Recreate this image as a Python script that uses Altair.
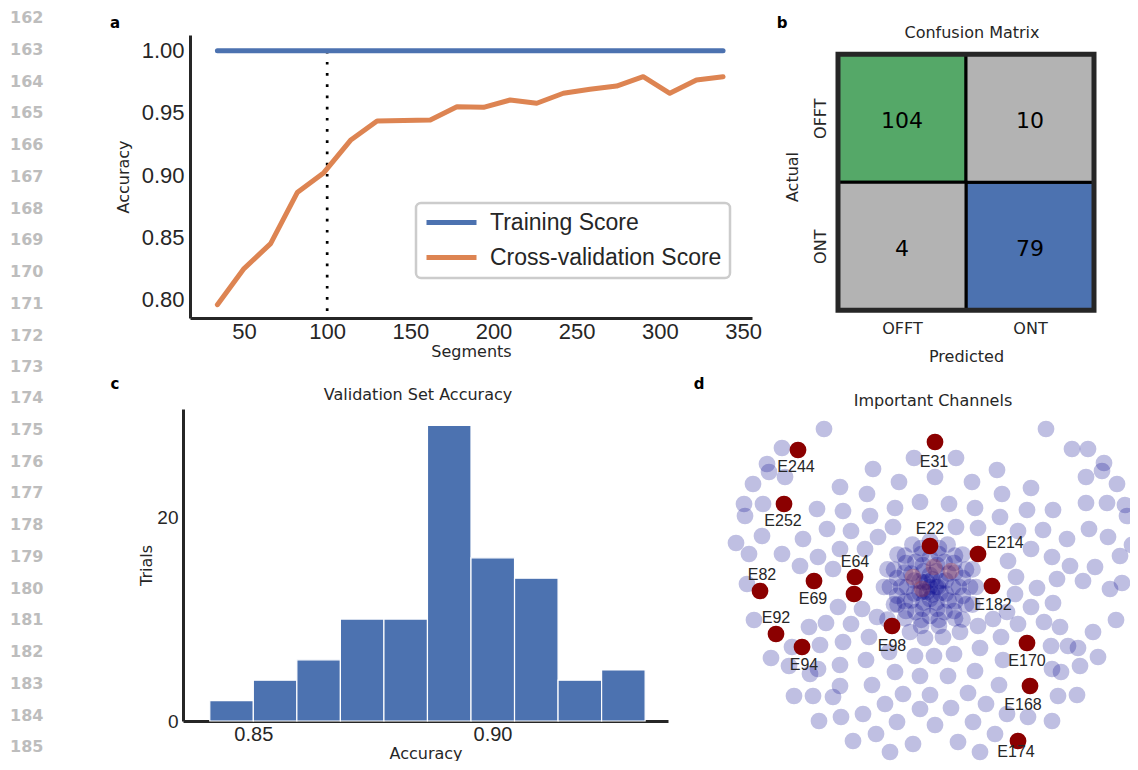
import altair as alt
import pandas as pd

# ---------------- data ----------------
line_numbers_top = [162, 163, 164, 165, 166, 167, 168, 169, 170, 171, 172, 173]
line_numbers_bottom = [174, 175, 176, 177, 178, 179, 180, 181, 182, 183, 184, 185]

# panel a: learning curve
segments = [34, 50, 66, 82, 98, 114, 130, 146, 162, 178, 194, 210, 226, 242, 258, 274, 290, 306, 322, 338]
training_score = [1.0, 1.0, 1.0, 1.0, 1.0, 1.0, 1.0, 1.0, 1.0, 1.0,
                  1.0, 1.0, 1.0, 1.0, 1.0, 1.0, 1.0, 1.0, 1.0, 1.0]
cv_score = [0.796, 0.825, 0.845, 0.886, 0.902, 0.928, 0.9435, 0.944, 0.9443, 0.955,
            0.9545, 0.9604, 0.9578, 0.9658, 0.969, 0.9716, 0.9791, 0.9658, 0.9765, 0.9791]
series_names = ["Training Score", "Cross-validation Score"]
chosen_segments = 100

# panel b: confusion matrix
class_names = ["OFFT", "ONT"]
cm_actual = ["OFFT", "OFFT", "ONT", "ONT"]
cm_predicted = ["OFFT", "ONT", "OFFT", "ONT"]
cm_counts = [104, 10, 4, 79]

# panel c: histogram
bin_edges = [0.8409, 0.8500, 0.8591, 0.8682, 0.8773, 0.8864, 0.8955, 0.9046, 0.9137, 0.9228, 0.9319]
trial_counts = [2, 4, 6, 10, 10, 29, 16, 14, 4, 5]

# panel d: sensor layout (projected electrode coordinates)
chan_x = [824, 782, 767, 769, 785, 753, 873, 914, 840, 899, 867, 744, 745, 763, 817, 843, 870, 895, 920,
          762, 803, 827, 851, 878, 893, 736, 749, 782, 818, 840, 865, 800, 833, 747,
          1046, 1072, 1088, 1104, 1102, 956, 935, 997, 1086, 1117, 972, 1031, 1002, 949, 975, 1027, 1053,
          1086, 1107, 1125, 1127, 1000, 956, 978, 1018, 1043, 1067, 1089, 1108, 1132, 1008, 1031, 1052,
          1070, 1095, 1120, 1016, 1037, 1057, 1083, 1110, 1122,
          838, 862, 877, 754, 809, 826, 851, 910, 792, 820, 843, 869, 925, 771, 789, 818, 810, 840, 866,
          889, 915, 895, 920, 872, 840, 794, 813, 833, 903, 930, 885, 863, 841, 819, 920, 897, 853, 876,
          890, 913,
          1015, 1053, 1031, 1007, 993, 978, 960, 943, 1018, 1044, 1060, 1093, 1116, 1001, 1051, 1068, 1078,
          1098, 980, 954, 934, 1003, 1052, 1061, 1080, 975, 948, 999, 968, 1058, 1077, 986, 951, 1007, 1028,
          1052, 973, 935, 995, 958, 980,
          976, 972.5, 962.5, 887.5, 884, 887.5, 897.5, 912.4, 930, 947.6, 962.5, 972.5, 897.5,
          970, 966, 955, 938.9, 921.1, 905, 894, 890, 894, 905, 921.1, 938.9, 955, 966,
          962.8, 954, 938.8, 921.2, 906, 897.2, 897.2, 906, 921.2, 938.8, 954, 962.8,
          959, 955.1, 944.5, 930, 915.5, 904.9, 901, 904.9, 915.5, 930, 944.5, 955.1,
          953, 948.6, 937.1, 922.9, 911.4, 907, 911.4, 922.9, 937.1, 948.6,
          945.7, 936.5, 923.5, 914.3, 914.3, 923.5, 936.5, 945.7,
          940.4, 930, 919.6, 919.6, 930, 940.4,
          938, 932.5, 923.5, 923.5, 932.5,
          936, 927, 927, 930]
chan_y = [430, 449, 465, 473, 478, 485, 470, 459, 488, 483, 495, 505, 517, 505, 510, 512, 517, 509, 503,
          537, 540, 530, 532, 538, 528, 544, 555, 555, 558, 550, 550, 567, 570, 585,
          430, 450, 450, 464, 472, 459, 478, 471, 478, 485, 483, 489, 495, 505, 509, 511, 511,
          504, 504, 506, 517, 518, 528, 529, 532, 531, 540, 530, 538, 546, 562, 550, 558,
          567, 568, 557, 578, 589, 580, 582, 590, 584,
          608, 610, 618, 621, 628, 624, 625, 633, 648, 646, 643, 638, 639, 659, 667, 670, 675, 666, 661,
          653, 657, 673, 677, 686, 687, 697, 697, 698, 695, 696, 705, 715, 718, 722, 710, 723, 742, 735,
          753, 745,
          595, 604, 608, 613, 620, 627, 633, 638, 625, 623, 628, 633, 621, 638, 647, 647, 649,
          658, 649, 655, 657, 661, 670, 673, 667, 672, 677, 686, 694, 697, 696, 705, 709, 715, 718,
          722, 723, 726, 735, 743, 753,
          588, 605.6, 620.5, 620.5, 588, 570.4, 555.5, 545.5, 542, 545.5, 555.5, 570.4, 605.6,
          588, 605.4, 619.3, 627, 627, 619.3, 605.4, 588, 570.6, 556.7, 549, 549, 556.7, 570.6,
          596.8, 612, 620.8, 620.8, 612, 596.8, 579.2, 564, 555.2, 555.2, 564, 579.2,
          588, 602.5, 613.1, 617, 613.1, 602.5, 588, 573.5, 562.9, 559, 562.9, 573.5,
          588, 601.5, 609.9, 609.9, 601.5, 588, 574.5, 566.1, 566.1, 574.5,
          594.5, 603.7, 603.7, 594.5, 581.5, 572.3, 572.3, 581.5,
          594, 600, 594, 582, 576, 582,
          588, 595.6, 592.7, 583.3, 580.4,
          588, 593.2, 582.8, 588]
faint_x = [913, 934, 951, 922]
faint_y = [578, 568, 572, 590]
imp_x = [798, 935, 784, 930, 978, 855, 854, 760, 814, 992, 776, 892, 802, 1027, 1030, 1018]
imp_y = [451, 443, 505, 547, 555, 578, 595, 592, 582, 587, 635, 627, 648, 644, 687, 742]
lab_names = ["E244", "E31", "E252", "E22", "E214", "E64", "E82", "E69", "E182",
             "E92", "E98", "E94", "E170", "E168", "E174"]
lab_x = [796, 934, 783, 930, 1005, 855, 762, 813, 993, 776, 892, 804, 1027, 1023, 1016]
lab_y = [468, 463, 522, 530, 544, 563, 576, 600, 606, 619, 647, 666, 662, 706, 753]

# ---------------- styles ----------------
FONT = "DejaVu Sans"
NUMFONT = "Liberation Sans"
INK = "#262626"
BLUE = "#4c72b0"
ORANGE = "#dd8452"
GREEN = "#55a868"
GRAY = "#b3b3b3"


def note(txt, px, py, size=15, weight="bold", color="black", font=FONT):
    return alt.Chart(pd.DataFrame({"t": [txt]})).mark_text(
        font=font, fontSize=size, fontWeight=weight, color=color, align="center", baseline="middle"
    ).encode(text="t:N", x=alt.value(px), y=alt.value(py))


def panel_title(txt, px, py):
    return note(txt, px, py, size=16, weight="normal", color=INK)


def line_panel(nums, d0, d1, w, h):
    return alt.Chart(pd.DataFrame({"n": nums})).mark_text(
        font=FONT, fontSize=16, fontWeight="bold", color="#bdbdbd", align="left", baseline="middle"
    ).encode(
        y=alt.Y("n:Q", scale=alt.Scale(domain=[d0, d1], reverse=True, nice=False, zero=False), axis=None),
        x=alt.value(0),
        text="n:N",
    ).properties(width=w, height=h)


# ---------------- panel a ----------------
H1 = 283
df_a = pd.DataFrame({
    "Segments": segments + segments,
    "Score": training_score + cv_score,
    "Series": [series_names[0]] * len(segments) + [series_names[1]] * len(segments),
})
xa = alt.Scale(domain=[17.53, 355.4], nice=False, zero=False)
ya = alt.Scale(domain=[0.7853, 1.0126], nice=False, zero=False)
axis_xa = alt.Axis(values=[50, 100, 150, 200, 250, 300, 350], title="Segments", titleFont=FONT,
                   titleFontSize=16, titleFontWeight="normal", titleColor=INK, titlePadding=1,
                   labelFont=NUMFONT, labelFontSize=22, labelColor=INK, labelPadding=3, labelFlush=False,
                   ticks=False, grid=False, domainColor=INK, domainWidth=3)
axis_ya = alt.Axis(values=[0.8, 0.85, 0.9, 0.95, 1.0], format=".2f", title="Accuracy", titleFont=FONT,
                   titleFontSize=16, titleFontWeight="normal", titleColor=INK, titlePadding=10,
                   labelFont=NUMFONT, labelFontSize=22, labelColor=INK, labelPadding=6,
                   ticks=False, grid=False, domainColor=INK, domainWidth=3)

rule_a = alt.Chart(pd.DataFrame({"Segments": [chosen_segments], "Score": [1.0]})).mark_rule(
    color="black", strokeWidth=2.7, strokeDash=[2.7, 8.5]
).encode(x=alt.X("Segments:Q", scale=xa, axis=axis_xa),
         y=alt.Y("Score:Q", scale=ya, axis=axis_ya),
         y2=alt.value(H1))

lines_a = alt.Chart(df_a).mark_line(strokeWidth=5, strokeCap="round", strokeJoin="round").encode(
    x=alt.X("Segments:Q", scale=xa, axis=axis_xa),
    y=alt.Y("Score:Q", scale=ya, axis=axis_ya),
    color=alt.Color("Series:N", scale=alt.Scale(domain=series_names, range=[BLUE, ORANGE]),
                    legend=alt.Legend(title=None, orient="none", legendX=226, legendY=168,
                                      symbolType="stroke", symbolSize=2500, symbolStrokeWidth=5,
                                      clipHeight=23, labelFont=NUMFONT, labelFontSize=23,
                                      labelColor=INK, labelOffset=11, labelLimit=400, padding=8,
                                      rowPadding=11, strokeColor="#cccccc", fillColor="white",
                                      cornerRadius=5)),
    detail="Series:N",
)

panel_a = alt.layer(rule_a, lines_a, note("a", -75, -12)).properties(width=562, height=H1)

# ---------------- panel b ----------------
cm = pd.DataFrame({"actual": cm_actual, "predicted": cm_predicted, "count": cm_counts})
ncls = len(class_names)
cm["col"] = cm["predicted"].map({c: i for i, c in enumerate(class_names)})
cm["row"] = cm["actual"].map({c: ncls - 1 - i for i, c in enumerate(class_names)})
cm["col2"] = cm["col"] + 1
cm["row2"] = cm["row"] + 1
cm["cx"] = cm["col"] + 0.5
cm["cy"] = cm["row"] + 0.5

xb = alt.Scale(domain=[0, ncls], nice=False, zero=False)
yb = alt.Scale(domain=[-0.0609, 2.15], nice=False, zero=False)
axis_xb = alt.Axis(values=[0.5, 1.5], labelExpr=f"datum.value < 1 ? '{class_names[0]}' : '{class_names[1]}'",
                   title="Predicted", titleFont=FONT, titleFontSize=16, titleFontWeight="normal",
                   titleColor=INK, titlePadding=12, labelFont=FONT, labelFontSize=16, labelColor=INK,
                   labelPadding=2, ticks=False, grid=False, domain=False)
axis_yb = alt.Axis(values=[0.5, 1.5], labelExpr=f"datum.value < 1 ? '{class_names[1]}' : '{class_names[0]}'",
                   labelAngle=270, title="Actual", titleFont=FONT, titleFontSize=16,
                   titleFontWeight="normal", titleColor=INK, titlePadding=12, labelFont=FONT,
                   labelFontSize=16, labelColor=INK, labelPadding=10, ticks=False, grid=False, domain=False)

cells = alt.Chart(cm).encode(
    x=alt.X("col:Q", scale=xb, axis=axis_xb), x2="col2:Q",
    y=alt.Y("row:Q", scale=yb, axis=axis_yb), y2="row2:Q",
)
cell_green = cells.mark_rect(fill=GREEN, stroke="black", strokeWidth=3).transform_filter(
    f"datum.actual == datum.predicted && datum.actual == '{class_names[0]}'")
cell_blue = cells.mark_rect(fill=BLUE, stroke="black", strokeWidth=3).transform_filter(
    f"datum.actual == datum.predicted && datum.actual == '{class_names[1]}'")
cell_gray = cells.mark_rect(fill=GRAY, stroke="black", strokeWidth=3).transform_filter(
    "datum.actual != datum.predicted")

frame_b = alt.Chart(pd.DataFrame({"col": [0], "col2": [ncls], "row": [0], "row2": [ncls]})).mark_rect(
    fillOpacity=0, stroke=INK, strokeWidth=5
).encode(x=alt.X("col:Q", scale=xb, axis=axis_xb), x2="col2:Q",
         y=alt.Y("row:Q", scale=yb, axis=axis_yb), y2="row2:Q")

text_b = alt.Chart(cm).mark_text(font=FONT, fontSize=22, color="black", dy=3).encode(
    x=alt.X("cx:Q", scale=xb, axis=axis_xb), y=alt.Y("cy:Q", scale=yb, axis=axis_yb), text="count:Q")

panel_b = alt.layer(cell_green, cell_blue, cell_gray, frame_b, text_b,
                    note("b", -56, -12), panel_title("Confusion Matrix", 134, -2)
                    ).properties(width=256, height=H1)

# ---------------- panel c ----------------
df_c = pd.DataFrame({"start": bin_edges[:-1], "end": bin_edges[1:], "Trials": trial_counts})
xc = alt.Scale(domain=[0.8353, 0.93668], nice=False, zero=False)
yc = alt.Scale(domain=[0, 30.6], nice=False, zero=False)
axis_xc = alt.Axis(values=[0.85, 0.90], format=".2f", title="Accuracy", titleFont=FONT, titleFontSize=16,
                   titleFontWeight="normal", titleColor=INK, titlePadding=1, labelFont=NUMFONT,
                   labelFontSize=20, labelColor=INK, labelPadding=3, labelFlush=False,
                   ticks=False, grid=False, domainColor=INK, domainWidth=3)
axis_yc = alt.Axis(values=[0, 20], title="Trials", titleFont=FONT, titleFontSize=16,
                   titleFontWeight="normal", titleColor=INK, titlePadding=2, labelFont=NUMFONT,
                   labelFontSize=19, labelColor=INK, labelPadding=5,
                   ticks=False, grid=False, domainColor=INK, domainWidth=3)
bars_c = alt.Chart(df_c).mark_rect(fill=BLUE, stroke="white", strokeWidth=1.2).encode(
    x=alt.X("start:Q", scale=xc, axis=axis_xc), x2="end:Q",
    y=alt.Y("Trials:Q", scale=yc, axis=axis_yc), y2=alt.datum(0))
panel_c = alt.layer(bars_c, note("c", -68, -25), panel_title("Validation Set Accuracy", 235, -14)
                    ).properties(width=485, height=312)

# ---------------- panel d ----------------
xd = alt.Scale(domain=[720, 1130], nice=False, zero=False)
yd = alt.Scale(domain=[410, 762], nice=False, zero=False, reverse=True)
df_ch = pd.DataFrame({"x": chan_x, "y": chan_y})
df_faint = pd.DataFrame({"x": faint_x, "y": faint_y})
df_imp = pd.DataFrame({"x": imp_x, "y": imp_y})
df_lab = pd.DataFrame({"x": lab_x, "y": lab_y, "name": lab_names})

enc_d = dict(x=alt.X("x:Q", scale=xd, axis=None), y=alt.Y("y:Q", scale=yd, axis=None))
pts_all = alt.Chart(df_ch).mark_circle(size=280, color="#00008b", opacity=0.25, clip=True).encode(**enc_d)
pts_faint = alt.Chart(df_faint).mark_circle(size=280, color="#c0392b", opacity=0.28, clip=True).encode(**enc_d)
pts_imp = alt.Chart(df_imp).mark_circle(size=280, color="#8b0000", opacity=1, clip=True).encode(**enc_d)
labels_d = alt.Chart(df_lab).mark_text(font=NUMFONT, fontSize=16, color=INK, baseline="middle",
                                       clip=True).encode(text="name:N", **enc_d)
panel_d = alt.layer(pts_all, pts_faint, pts_imp, labels_d, note("d", -21, -25),
                    panel_title("Important Channels", 213, -8)).properties(width=410, height=352)

# ---------------- line numbers ----------------
STEP = 31.75
L1 = line_panel(line_numbers_top, 162.535, 162.535 + H1 / STEP, 94, H1)
L2 = line_panel(line_numbers_bottom, 174.346, 174.346 + 312 / STEP, 121, 312)

row1 = alt.hconcat(L1, panel_a, panel_b, spacing=86, bounds="flush").resolve_scale(
    x="independent", y="independent", color="independent")
row2 = alt.hconcat(L2, panel_c, panel_d, spacing=52, bounds="flush").resolve_scale(
    x="independent", y="independent")

chart = alt.vconcat(row1, row2, spacing=1, bounds="full").properties(
    padding={"left": 2, "top": 2, "right": 0, "bottom": 0}
).configure_view(stroke=None).configure_legend(strokeWidth=2.5)

chart.save("out.html", embed_options={"renderer": "svg", "actions": False})
